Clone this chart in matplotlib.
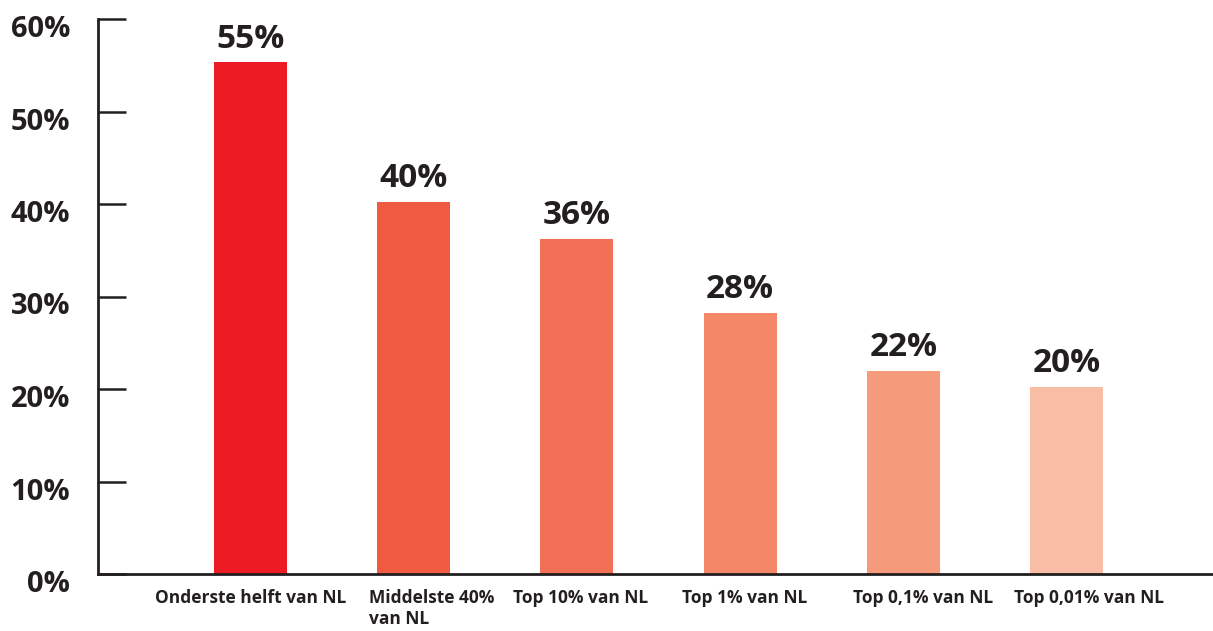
import matplotlib
matplotlib.use("Agg")
import matplotlib.pyplot as plt
import matplotlib.transforms as mtransforms

categories = ["Onderste helft van NL", "Middelste 40%\nvan NL", "Top 10% van NL",
              "Top 1% van NL", "Top 0,1% van NL", "Top 0,01% van NL"]
values = [55.3, 40.2, 36.2, 28.2, 22.0, 20.2]
value_labels = ["55%", "40%", "36%", "28%", "22%", "20%"]
colors = ["#ED1C24", "#F05A40", "#F17055", "#F48768", "#F69A7C", "#F9BDA5"]
yticks = [0, 10, 20, 30, 40, 50, 60]
ytick_labels = ["0%", "10%", "20%", "30%", "40%", "50%", "60%"]

plt.rcParams['font.family'] = ['Open Sans', 'DejaVu Sans']
txt = "#231F20"

fig = plt.figure(figsize=(12.13, 6.31), dpi=100)
ax = fig.add_axes([98/1213, 57/631, 1 - 98/1213, (574-19)/631])

x = list(range(len(values)))
ax.bar(x, values, width=0.447, color=colors)
for xi, v, lab in zip(x, values, value_labels):
    ax.annotate(lab, (xi, v), xytext=(0, 5), textcoords="offset points",
                ha="center", va="bottom", fontsize=24, fontweight="bold", color=txt)

ax.set_xlim(-0.934, 5.898)
ax.set_ylim(0, 60)
ax.set_yticks(yticks)
ax.set_yticklabels(ytick_labels, fontsize=21, fontweight="bold", color=txt)
ax.set_xticks(x)
ax.set_xticklabels(categories, fontsize=12.5, fontweight="bold", color=txt, multialignment="left")

for s in ["top", "right"]:
    ax.spines[s].set_visible(False)
for s in ["left", "bottom"]:
    ax.spines[s].set_linewidth(2)
    ax.spines[s].set_color(txt)

ax.tick_params(axis="y", direction="in", length=20, width=1.8, color=txt, pad=20)
ax.tick_params(axis="x", length=0, pad=11)

off = mtransforms.ScaledTranslation(0, -7/100, fig.dpi_scale_trans)
for lab in ax.get_yticklabels():
    lab.set_transform(lab.get_transform() + off)
xl = ax.get_xticklabels()
shifts = [0, 18, 4, 5, 20, 23]
for lab, sh in zip(xl, shifts):
    lab.set_transform(lab.get_transform() + mtransforms.ScaledTranslation(sh/100, 0, fig.dpi_scale_trans))

fig.savefig("out.png", dpi=100)
